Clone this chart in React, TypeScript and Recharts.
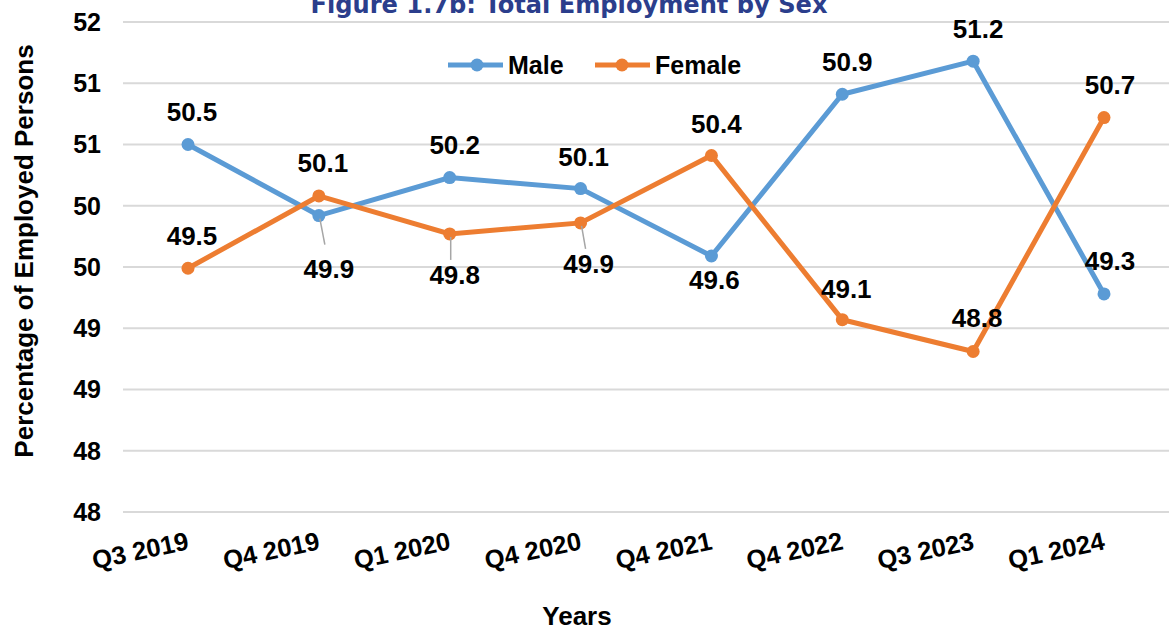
import React from 'react';
import { LineChart, Line, XAxis, YAxis, CartesianGrid, Legend, LabelList } from 'recharts';

const categories = ['Q3 2019', 'Q4 2019', 'Q1 2020', 'Q4 2020', 'Q4 2021', 'Q4 2022', 'Q3 2023', 'Q1 2024'];
const maleValues = [50.5, 49.92, 50.23, 50.14, 49.59, 50.91, 51.18, 49.28];
const femaleValues = [49.49, 50.08, 49.77, 49.86, 50.41, 49.07, 48.81, 50.72];
const yTicks = [47.5, 48, 48.5, 49, 49.5, 50, 50.5, 51, 51.5];

const TITLE = 'Figure 1.7b: Total Employment by Sex';
const Y_TITLE = 'Percentage of Employed Persons';
const X_TITLE = 'Years';

const MALE = '#5B9BD5';
const FEMALE = '#ED7D31';
const FONT = '"Liberation Sans", Arial, Helvetica, sans-serif';

const data = categories.map((c, i) => ({ name: c, male: maleValues[i], female: femaleValues[i] }));

type LabelPos = { dx: number; dy: number; leader?: [number, number] };
const maleLabelPos: LabelPos[] = [
  { dx: 4, dy: -33 },
  { dx: 10, dy: 53, leader: [6, 29] },
  { dx: 5, dy: -33 },
  { dx: 3, dy: -32 },
  { dx: 3, dy: 24 },
  { dx: 5, dy: -33 },
  { dx: 5, dy: -33 },
  { dx: 6, dy: -33 },
];
const femaleLabelPos: LabelPos[] = [
  { dx: 4, dy: -33 },
  { dx: 4, dy: -33 },
  { dx: 5, dy: 41, leader: [1, 26] },
  { dx: 8, dy: 41, leader: [5, 26] },
  { dx: 5, dy: -32 },
  { dx: 4, dy: -31 },
  { dx: 4, dy: -34 },
  { dx: 6, dy: -33 },
];

const makeLabel = (pos: LabelPos[], values: number[]) => (props: any) => {
  const vb = props.viewBox || {};
  const x = props.x != null ? props.x : vb.x;
  const y = props.y != null ? props.y : vb.y;
  const value = props.value;
  let index = props.index;
  if (index == null || pos[index] == null) index = values.indexOf(value);
  const p = pos[index] || { dx: 0, dy: -33 };
  return (
    <g>
      {p.leader && (
        <line x1={x + 1} y1={y + 3} x2={x + p.leader[0]} y2={y + p.leader[1]} stroke="#a6a6a6" strokeWidth={1.5} />
      )}
      <text
        x={x + p.dx}
        y={y + p.dy}
        dy="0.36em"
        textAnchor="middle"
        fontSize={26}
        fontWeight={700}
        fill="#000"
        fontFamily={FONT}
      >
        {Number(value).toFixed(1)}
      </text>
    </g>
  );
};

const XTick = (props: any) => {
  const { x, y, payload } = props;
  const by = y + 37;
  return (
    <text
      x={x + 2}
      y={by}
      textAnchor="end"
      transform={`rotate(-12, ${x + 2}, ${by})`}
      fontSize={25.5}
      fontWeight={700}
      fill="#000"
      fontFamily={FONT}
    >
      {payload.value}
    </text>
  );
};

const renderYTitle = () => (
  <text
    x={33}
    y={251}
    transform="rotate(-90, 33, 251)"
    textAnchor="middle"
    fontSize={26}
    fontWeight={700}
    fill="#000"
    fontFamily={FONT}
  >
    {Y_TITLE}
  </text>
);

const renderXTitle = () => (
  <text x={577} y={625} textAnchor="middle" fontSize={26} fontWeight={700} fill="#000" fontFamily={FONT}>
    {X_TITLE}
  </text>
);

const renderLegend = () => (
  <svg width={330} height={40} style={{ display: 'block' }}>
    <line x1={8} y1={20} x2={63} y2={20} stroke={MALE} strokeWidth={5} />
    <circle cx={37} cy={20} r={6.5} fill={MALE} />
    <text x={68} y={29} fontSize={25} fontWeight={700} fill="#000" fontFamily={FONT}>
      Male
    </text>
    <line x1={155} y1={20} x2={210} y2={20} stroke={FEMALE} strokeWidth={5} />
    <circle cx={182} cy={20} r={6.5} fill={FEMALE} />
    <text x={215} y={29} fontSize={25} fontWeight={700} fill="#000" fontFamily={FONT}>
      Female
    </text>
  </svg>
);

export default function App() {
  return (
    <div style={{ position: 'absolute', left: 0, top: 0, width: 1169, height: 631, background: '#fff', overflow: 'hidden' }}>
      <LineChart width={1169} height={631} data={data} margin={{ top: 22, right: 0, bottom: 0, left: 0 }}>
        <CartesianGrid vertical={false} stroke="#d9d9d9" strokeWidth={2} />
        <XAxis
          dataKey="name"
          axisLine={false}
          tickLine={false}
          tickSize={0}
          tickMargin={0}
          height={119}
          interval={0}
          padding={{ left: 65, right: 65 }}
          tick={<XTick />}
          label={{ value: X_TITLE, content: renderXTitle }}
        />
        <YAxis
          domain={[47.5, 51.5]}
          ticks={yTicks}
          interval={0}
          tickFormatter={(v: number) => String(Math.round(v))}
          axisLine={false}
          tickLine={false}
          tickSize={0}
          tickMargin={22}
          width={123}
          tick={{ fontSize: 25, fontWeight: 700, fill: '#000', fontFamily: FONT }}
          label={{ value: Y_TITLE, content: renderYTitle }}
        />
        <Legend
          layout="vertical"
          align="center"
          verticalAlign="middle"
          content={renderLegend}
          wrapperStyle={{ position: 'absolute', left: 440, top: 45, width: 330, height: 40 }}
        />
        <Line
          type="linear"
          dataKey="male"
          name="Male"
          stroke={MALE}
          strokeWidth={5}
          dot={{ r: 6.5, fill: MALE, stroke: MALE, strokeWidth: 0 }}
          activeDot={false}
          isAnimationActive={false}
        >
          <LabelList dataKey="male" content={makeLabel(maleLabelPos, maleValues)} />
        </Line>
        <Line
          type="linear"
          dataKey="female"
          name="Female"
          stroke={FEMALE}
          strokeWidth={5}
          dot={{ r: 6.5, fill: FEMALE, stroke: FEMALE, strokeWidth: 0 }}
          activeDot={false}
          isAnimationActive={false}
        >
          <LabelList dataKey="female" content={makeLabel(femaleLabelPos, femaleValues)} />
        </Line>
      </LineChart>
      <svg width={1169} height={40} style={{ position: 'absolute', left: 0, top: 0, pointerEvents: 'none' }}>
        <text
          x={569}
          y={13}
          textAnchor="middle"
          fontSize={25}
          fontWeight={700}
          fill="#2B3E8C"
          fontFamily='"DejaVu Sans", "Open Sans", sans-serif'
          textLength={517}
          lengthAdjust="spacingAndGlyphs"
        >
          {TITLE}
        </text>
      </svg>
    </div>
  );
}
